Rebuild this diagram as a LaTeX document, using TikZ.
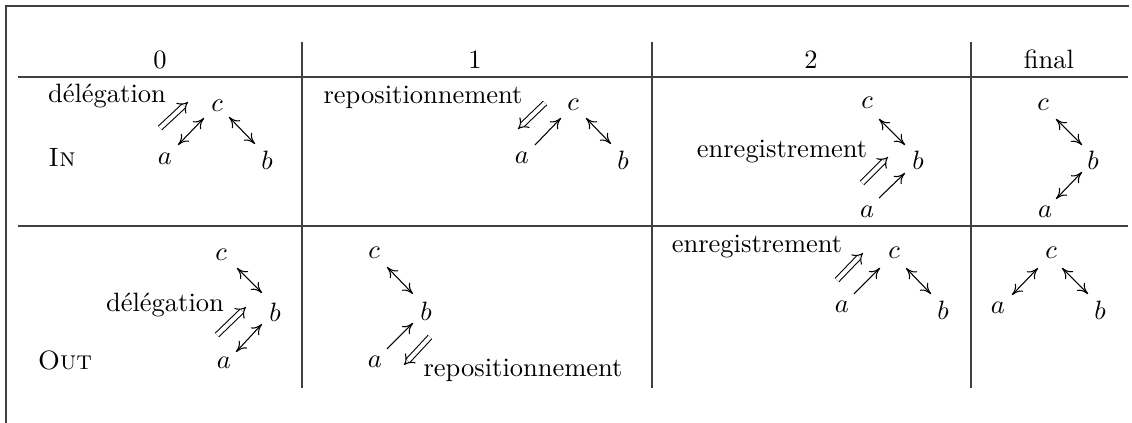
\documentclass[tikz,border=0pt]{standalone}
\usetikzlibrary{arrows.meta}
\begin{document}
\begin{tikzpicture}[x=0.3774pt,y=-0.3774pt,
  lbl/.style={anchor=base, inner sep=0pt},
  pt/.style={inner sep=0pt},
  rulel/.style={line width=0.4pt, black!75},
  tipx/.tip={Computer Modern Rightarrow[length=4pt, width=4.2pt]},
  one/.style={line width=0.4pt, -tipx},
  two/.style={line width=0.4pt, tipx-tipx},
  dbl/.style={line width=0.4pt, double, double distance=1.5pt, -{Implies[length=3.4pt, width=6pt]}}]
\useasboundingbox (0,0) rectangle (1132,423);
% frame
\draw[rulel] (6,423) -- (6,6) -- (1129,6);
% table rules
\draw[rulel] (18,77) -- (1128,77);
\draw[rulel] (18,226) -- (1128,226);
\draw[rulel] (302,42) -- (302,388);
\draw[rulel] (652,42) -- (652,388);
\draw[rulel] (971,42) -- (971,388);
% headers
\node[lbl] (h0) at (160,69) {0};
\node[lbl] (h1) at (475,69) {1};
\node[lbl] (h2) at (811,69) {2};
\node[lbl] (h3) at (1049,69) {final};
% row labels
\node[lbl] (rin) at (62,167) {\textsc{In}};
\node[lbl] (rout) at (65,370) {\textsc{Out}};
% ---- cell 0 IN
\node[pt] (a0) at (165,159) {$a$};
\node[pt] (b0) at (267,160) {$b$};
\node[pt] (c0) at (217,106) {$c$};
\node[lbl] (d0) at (107,103) {délégation};
\draw[dbl] ([shift={(-5,-31)}]a0.center) -- ([shift={(-29,-4)}]c0.center);
\draw[two] ([shift={(13,-14)}]a0.center) -- ([shift={(-13,12)}]c0.center);
\draw[two] ([shift={(12,11)}]c0.center) -- ([shift={(-12,-16)}]b0.center);
% ---- cell 0 OUT
\node[pt] (a1) at (224,363) {$a$};
\node[pt] (b1) at (275,312) {$b$};
\node[pt] (c1) at (221,255) {$c$};
\node[lbl] (d1) at (165,312) {délégation};
\draw[two] ([shift={(16,13)}]c1.center) -- ([shift={(-13,-19)}]b1.center);
\draw[dbl] ([shift={(-7,-28)}]a1.center) -- ([shift={(-29,-5)}]b1.center);
\draw[two] ([shift={(12,-11)}]a1.center) -- ([shift={(-13,12)}]b1.center);
% ---- cell 1 IN
\node[pt] (a2) at (522,158) {$a$};
\node[pt] (b2) at (623,160) {$b$};
\node[pt] (c2) at (573,105) {$c$};
\node[lbl] (r2) at (423,104) {repositionnement};
\draw[dbl] ([shift={(-28,-2)}]c2.center) -- ([shift={(-4,-29)}]a2.center);
\draw[one] ([shift={(13,-13)}]a2.center) -- ([shift={(-12,13)}]c2.center);
\draw[two] ([shift={(13,13)}]c2.center) -- ([shift={(-12,-16)}]b2.center);
% ---- cell 1 OUT
\node[pt] (a3) at (375,362) {$a$};
\node[pt] (b3) at (426,311) {$b$};
\node[pt] (c3) at (374,253) {$c$};
\node[lbl] (r3) at (523,377) {repositionnement};
\draw[two] ([shift={(13,14)}]c3.center) -- ([shift={(-13,-17)}]b3.center);
\draw[one] ([shift={(12,-13)}]a3.center) -- ([shift={(-13,12)}]b3.center);
\draw[dbl] ([shift={(4,26)}]b3.center) -- ([shift={(29,3)}]a3.center);
% ---- cell 2 IN
\node[pt] (a4) at (867,212) {$a$};
\node[pt] (b4) at (918,160) {$b$};
\node[pt] (c4) at (867,103) {$c$};
\node[lbl] (e4) at (782,158) {enregistrement};
\draw[two] ([shift={(12,16)}]c4.center) -- ([shift={(-13,-15)}]b4.center);
\draw[dbl] ([shift={(-5,-29)}]a4.center) -- ([shift={(-30,-3)}]b4.center);
\draw[one] ([shift={(12,-14)}]a4.center) -- ([shift={(-13,13)}]b4.center);
% ---- cell 2 OUT
\node[pt] (a5) at (842,307) {$a$};
\node[pt] (b5) at (943,310) {$b$};
\node[pt] (c5) at (894,253) {$c$};
\node[lbl] (e5) at (757,253) {enregistrement};
\draw[dbl] ([shift={(-5,-27)}]a5.center) -- ([shift={(-31,0)}]c5.center);
\draw[one] ([shift={(12,-13)}]a5.center) -- ([shift={(-14,15)}]c5.center);
\draw[two] ([shift={(12,15)}]c5.center) -- ([shift={(-12,-16)}]b5.center);
% ---- final IN
\node[pt] (a6) at (1045,212) {$a$};
\node[pt] (b6) at (1093,160) {$b$};
\node[pt] (c6) at (1043,105) {$c$};
\draw[two] ([shift={(13,14)}]c6.center) -- ([shift={(-11,-15)}]b6.center);
\draw[two] ([shift={(11,-13)}]a6.center) -- ([shift={(-11,12)}]b6.center);
% ---- final OUT
\node[pt] (a7) at (998,308) {$a$};
\node[pt] (b7) at (1100,310) {$b$};
\node[pt] (c7) at (1051,253) {$c$};
\draw[two] ([shift={(14,-13)}]a7.center) -- ([shift={(-13,15)}]c7.center);
\draw[two] ([shift={(11,15)}]c7.center) -- ([shift={(-12,-16)}]b7.center);
\end{tikzpicture}
\end{document}
